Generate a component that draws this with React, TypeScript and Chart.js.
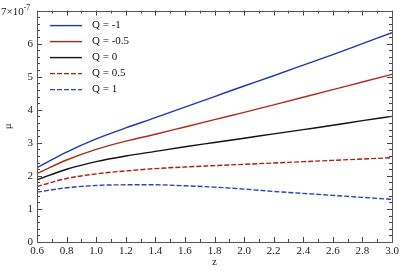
import React, { useEffect, useRef } from "react";
import { Chart, registerables } from "chart.js";

Chart.register(...registerables);

const zValues = [0.6, 0.8, 1.0, 1.2, 1.4, 1.6, 1.8, 2.0, 2.2, 2.4, 2.6, 2.8, 3.0];
const muQm1 = [2.25, 2.72, 3.12, 3.45, 3.76, 4.08, 4.40, 4.72, 5.03, 5.35, 5.67, 6.0, 6.33];
const muQm05 = [2.07, 2.48, 2.80, 3.05, 3.26, 3.48, 3.70, 3.92, 4.15, 4.38, 4.61, 4.84, 5.07];
const muQ0 = [1.88, 2.20, 2.43, 2.60, 2.74, 2.88, 3.01, 3.14, 3.27, 3.40, 3.53, 3.67, 3.80];
const muQ05 = [1.68, 1.92, 2.06, 2.15, 2.22, 2.27, 2.31, 2.35, 2.39, 2.43, 2.47, 2.51, 2.55];
const muQ1 = [1.51, 1.64, 1.71, 1.73, 1.73, 1.70, 1.66, 1.60, 1.53, 1.47, 1.41, 1.35, 1.29];
const seriesLabels = ["Q = -1", "Q = -0.5", "Q = 0", "Q = 0.5", "Q = 1"];
const seriesColors = ["#1f36b0", "#b02a1c", "#111111", "#a8200f", "#2a44b8"];
const seriesDashed = [false, false, false, true, true];

const FONT = "'Liberation Serif', 'Times New Roman', serif";

export default function App() {
  const ref = useRef<HTMLCanvasElement>(null);
  useEffect(() => {
    document.body.style.margin = "0";
    const all = [muQm1, muQm05, muQ0, muQ05, muQ1];
    const datasets = all.map((vals, i) => ({
      label: seriesLabels[i],
      data: vals.map((v, j) => ({ x: zValues[j], y: v })),
      borderColor: seriesColors[i],
      borderWidth: 1.4,
      borderDash: seriesDashed[i] ? [5, 2] : [],
      pointRadius: 0,
      fill: false,
      cubicInterpolationMode: "monotone" as const,
    }));

    const decor = {
      id: "decor",
      afterDraw(chart: any) {
        const { ctx, chartArea: a, scales } = chart;
        const xs = scales.x, ys = scales.y;
        ctx.save();
        ctx.strokeStyle = "#444";
        ctx.lineWidth = 1;
        ctx.beginPath();
        for (let k = 0; k <= 24; k++) {
          const v = 0.6 + k * 0.1;
          const px = Math.round(xs.getPixelForValue(v)) + 0.5;
          const len = k % 2 === 0 ? 5 : 3;
          ctx.moveTo(px, a.bottom); ctx.lineTo(px, a.bottom - len);
          ctx.moveTo(px, a.top); ctx.lineTo(px, a.top + len);
        }
        for (let k = 0; k <= 35; k++) {
          const v = k * 0.2;
          const py = Math.round(ys.getPixelForValue(v)) + 0.5;
          const len = k % 5 === 0 ? 5 : 3;
          ctx.moveTo(a.left, py); ctx.lineTo(a.left + len, py);
          ctx.moveTo(a.right, py); ctx.lineTo(a.right - len, py);
        }
        ctx.stroke();
        ctx.strokeStyle = "#555";
        ctx.strokeRect(Math.round(a.left) + 0.5, Math.round(a.top) + 0.5, Math.round(a.right - a.left), Math.round(a.bottom - a.top));
        ctx.fillStyle = "#222";
        ctx.textBaseline = "alphabetic";
        ctx.textAlign = "left";
        ctx.font = `11px ${FONT}`;
        const y7 = ys.getPixelForValue(7);
        ctx.fillText("7×10", 1, y7 + 4);
        const w = ctx.measureText("7×10").width;
        ctx.font = `8px ${FONT}`;
        ctx.fillText("-7", 1 + w, y7 - 1);
        const rows = [23, 39, 55, 71, 87];
        chart.data.datasets.forEach((ds: any, i: number) => {
          const y = a.top + rows[i] - 8;
          ctx.strokeStyle = ds.borderColor;
          ctx.lineWidth = 1.4;
          ctx.setLineDash(ds.borderDash || []);
          ctx.beginPath();
          ctx.moveTo(a.left + 13, y); ctx.lineTo(a.left + 45, y);
          ctx.stroke();
          ctx.setLineDash([]);
          ctx.fillStyle = "#111";
          ctx.font = `11px ${FONT}`;
          ctx.textBaseline = "middle";
          ctx.fillText(ds.label, a.left + 55, y);
        });
        ctx.restore();
      },
    };

    const chart = new Chart(ref.current!, {
      type: "line",
      data: { datasets },
      plugins: [decor],
      options: {
        animation: false,
        responsive: false,
        layout: { padding: { top: 8, right: 15, left: 0, bottom: 0 } },
        plugins: { legend: { display: false }, tooltip: { enabled: false } },
        scales: {
          x: {
            type: "linear",
            min: 0.6,
            max: 3.0,
            grid: { display: false, drawTicks: false },
            border: { display: false },
            ticks: {
              stepSize: 0.2,
              color: "#222",
              font: { family: FONT, size: 11 },
              maxRotation: 0,
              padding: 3,
              callback: (v: any) => Number(v).toFixed(1),
            },
            title: { display: true, text: "z", color: "#222", font: { family: FONT, size: 11 }, padding: { top: 0, bottom: 2 } },
            afterFit: (s: any) => { s.height = 29; },
          },
          y: {
            min: 0,
            max: 7,
            grid: { display: false, drawTicks: false },
            border: { display: false },
            ticks: {
              stepSize: 1,
              color: "#222",
              font: { family: FONT, size: 11 },
              padding: 4,
              callback: (v: any) => (v === 7 ? "" : String(v)),
            },
            title: { display: true, text: "μ", color: "#222", font: { family: FONT, size: 11 }, padding: { top: 2, bottom: 14 } },
            afterFit: (s: any) => { s.width = 37; },
          },
        },
      },
    });
    return () => chart.destroy();
  }, []);
  return <canvas ref={ref} width={407} height={271} style={{ display: "block" }} />;
}
